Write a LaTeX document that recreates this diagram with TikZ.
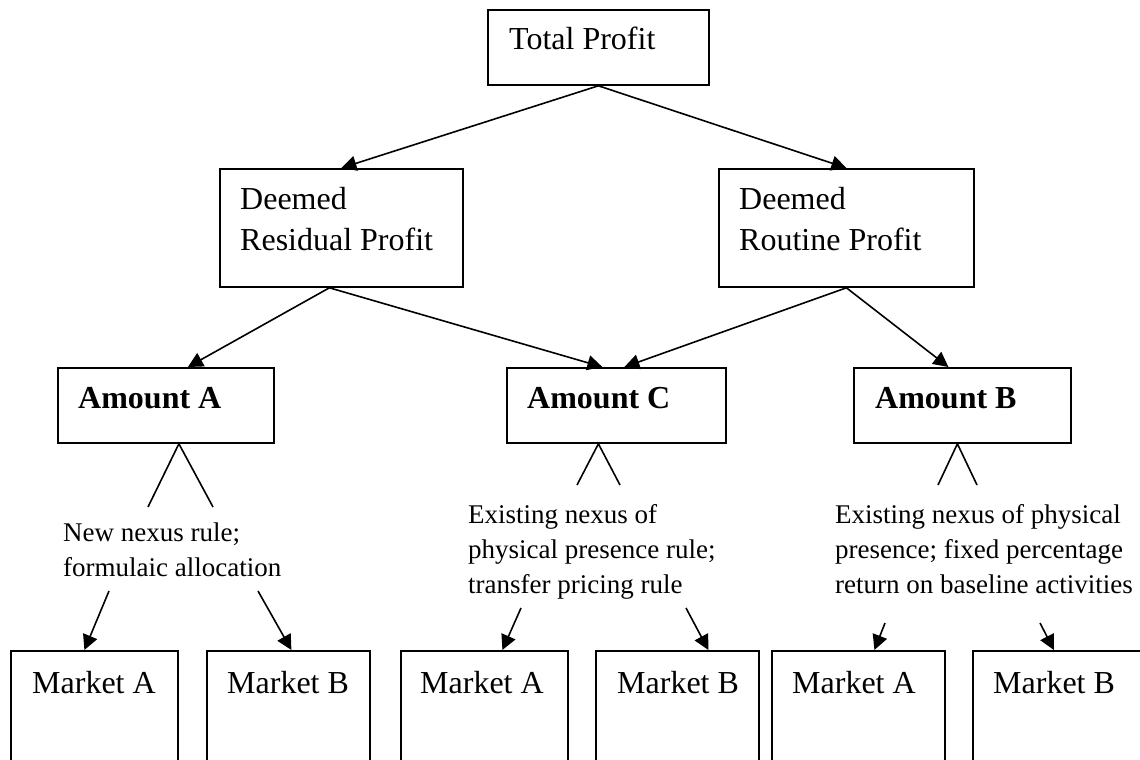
\documentclass[tikz,border=0pt]{standalone}
\usepackage{fontspec}
\setmainfont{Liberation Serif}
\usetikzlibrary{arrows.meta,positioning}

\begin{document}
\begin{tikzpicture}[
  x=1pt, y=-1pt,
  box/.style={draw,rectangle,line width=1.8pt,inner sep=0pt,anchor=north west},
  boxtext/.style={inner sep=0pt,anchor=north west,align=left,
                  font=\fontsize{32}{41}\selectfont},
  amttext/.style={inner sep=0pt,anchor=north west,
                  font=\fontsize{32}{38}\selectfont\bfseries},
  ruletext/.style={inner sep=0pt,anchor=north west,align=left,
                   font=\fontsize{27}{35}\selectfont},
  arr/.style={-{Triangle[length=15pt,width=15pt]},line width=1.6pt},
  split/.style={line width=1.6pt},
]
  \useasboundingbox (0,0) rectangle (1140,760);
  \clip (0,0) rectangle (1140,760);

  % Profit boxes
  \node[box,minimum width=221,minimum height=75] (total) at (487,9) {};
  \node[boxtext] (total-t) at ([xshift=22,yshift=-18]total.north west)
    {Total Profit};
  \node[box,minimum width=243,minimum height=118] (resid) at (219,168) {};
  \node[boxtext] (resid-t) at ([xshift=21,yshift=-19]resid.north west)
    {Deemed\\Residual Profit};
  \node[box,minimum width=255,minimum height=118] (rout) at (718,168) {};
  \node[boxtext] (rout-t) at ([xshift=21,yshift=-19]rout.north west)
    {Deemed\\Routine Profit};

  % Amounts
  \node[box,minimum width=216,minimum height=75] (amtA) at (57,367) {};
  \node[amttext] (amtA-t) at ([xshift=21,yshift=-20]amtA.north west) {Amount A};
  \node[box,minimum width=219,minimum height=75] (amtC) at (506,367) {};
  \node[amttext] (amtC-t) at ([xshift=21,yshift=-20]amtC.north west) {Amount C};
  \node[box,minimum width=217,minimum height=75] (amtB) at (853,367) {};
  \node[amttext] (amtB-t) at ([xshift=22,yshift=-20]amtB.north west) {Amount B};

  % Markets
  \node[box,minimum width=167,minimum height=125] (mktA1) at (10,650) {};
  \node[boxtext] (mktA1-t) at ([xshift=22,yshift=-21]mktA1.north west) {Market A};
  \node[box,minimum width=163,minimum height=125] (mktB1) at (206,650) {};
  \node[boxtext] (mktB1-t) at ([xshift=21,yshift=-21]mktB1.north west) {Market B};
  \node[box,minimum width=167,minimum height=125] (mktA2) at (400,650) {};
  \node[boxtext] (mktA2-t) at ([xshift=20,yshift=-21]mktA2.north west) {Market A};
  \node[box,minimum width=163,minimum height=125] (mktB2) at (595,650) {};
  \node[boxtext] (mktB2-t) at ([xshift=22,yshift=-21]mktB2.north west) {Market B};
  \node[box,minimum width=173,minimum height=125] (mktA3) at (771,650) {};
  \node[boxtext] (mktA3-t) at ([xshift=21,yshift=-21]mktA3.north west) {Market A};
  \node[box,minimum width=180,minimum height=125] (mktB3) at (972,650) {};
  \node[boxtext] (mktB3-t) at ([xshift=21,yshift=-21]mktB3.north west) {Market B};

  % Rules
  \node[ruletext] (ruleA) at (63,523) {New nexus rule;\\formulaic allocation};
  \node[ruletext] (ruleC) at (468,504)
    {Existing nexus of\\physical presence rule;\\transfer pricing rule};
  \node[ruletext] (ruleB) at (835,504)
    {Existing nexus of physical\\presence; fixed percentage\\return on baseline activities};

  % Split ends and arrow starts
  \coordinate (splA-l) at (148,507);
  \coordinate (splA-r) at (213,507);
  \coordinate (splC-l) at (577,485);
  \coordinate (splC-r) at (620,485);
  \coordinate (splB-l) at (938,485);
  \coordinate (splB-r) at (977,485);
  \coordinate (goA1) at (109,591);
  \coordinate (goB1) at (258,591);
  \coordinate (goA2) at (521,608);
  \coordinate (goB2) at (686,608);
  \coordinate (goA3) at (885,623);
  \coordinate (goB3) at (1040,623);

  % Arrows
  \draw[arr] (total.south) -- (resid.north);
  \draw[arr] (total.south) -- (rout.north);
  \draw[arr] ([xshift=-12]resid.south) -- ([xshift=22]amtA.north);
  \draw[arr] ([xshift=-12]resid.south) -- ([xshift=-14]amtC.north);
  \draw[arr] (rout.south) -- ([xshift=8]amtC.north);
  \draw[arr] (rout.south) -- ([xshift=-14]amtB.north);

  \draw[split] (splA-l) -- ([xshift=13]amtA.south) -- (splA-r);
  \draw[split] (splC-l) -- ([xshift=-18]amtC.south) -- (splC-r);
  \draw[split] (splB-l) -- ([xshift=-5]amtB.south) -- (splB-r);

  \draw[arr] (goA1) -- ([xshift=-10]mktA1.north);
  \draw[arr] (goB1) -- ([xshift=3]mktB1.north);
  \draw[arr] (goA2) -- ([xshift=18]mktA2.north);
  \draw[arr] (goB2) -- ([xshift=31]mktB2.north);
  \draw[arr] (goA3) -- ([xshift=16]mktA3.north);
  \draw[arr] (goB3) -- ([xshift=-9]mktB3.north);
\end{tikzpicture}
\end{document}
